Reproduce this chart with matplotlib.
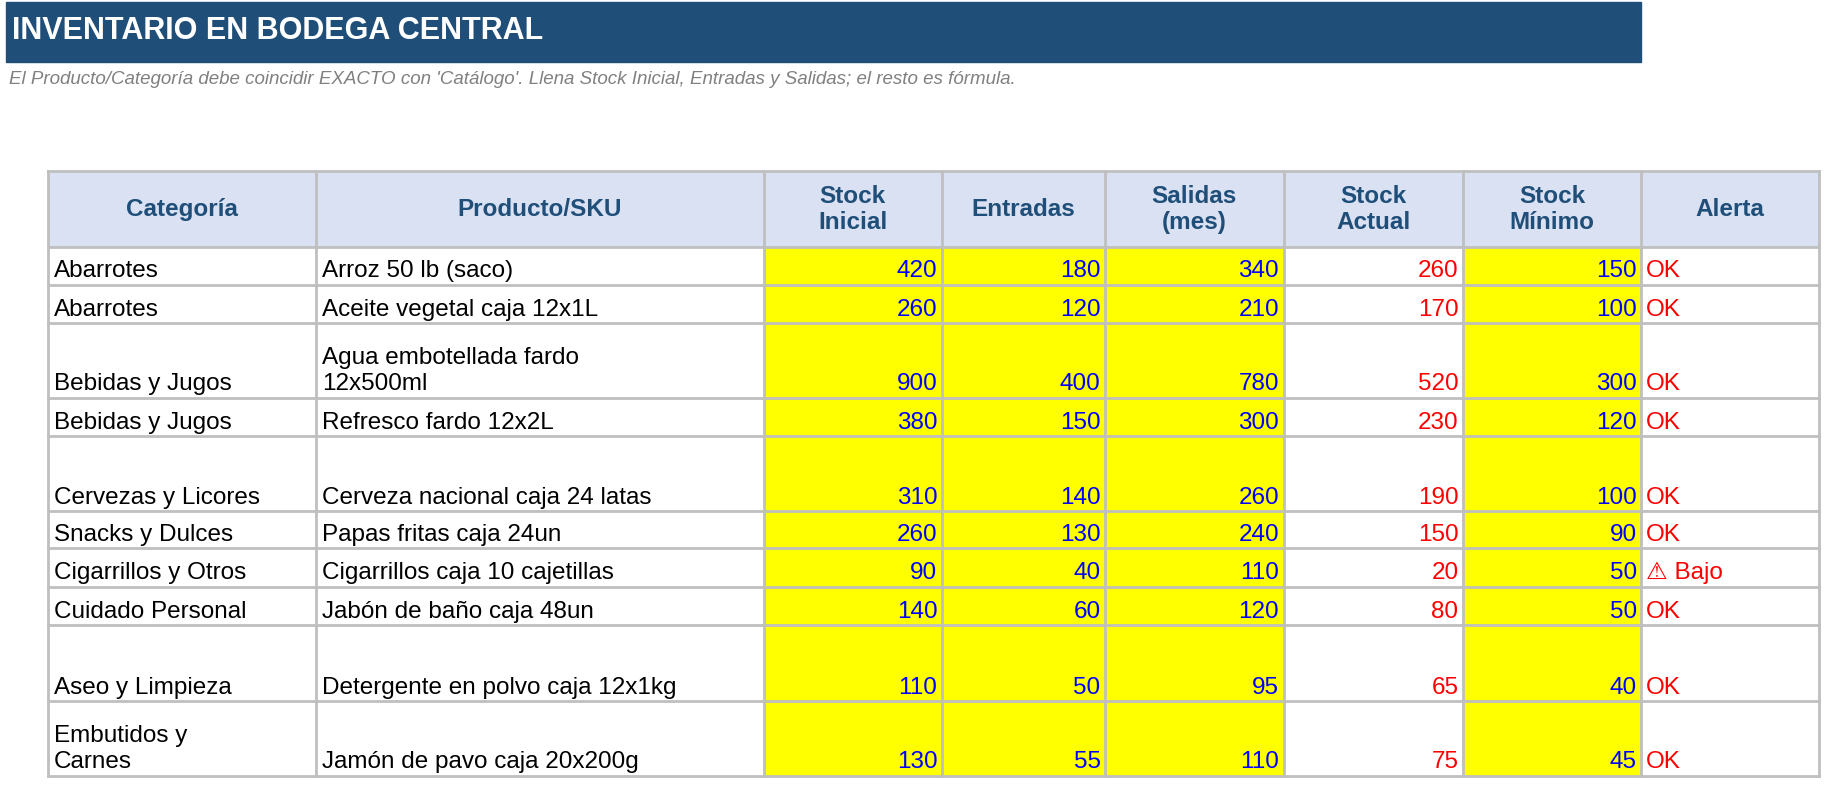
import matplotlib
matplotlib.use("Agg")
import matplotlib.pyplot as plt
from matplotlib.patches import Rectangle

title = "INVENTARIO EN BODEGA CENTRAL"
subtitle = "El Producto/Categoría debe coincidir EXACTO con 'Catálogo'. Llena Stock Inicial, Entradas y Salidas; el resto es fórmula."
headers = ["Categoría", "Producto/SKU", "Stock\nInicial", "Entradas", "Salidas\n(mes)", "Stock\nActual", "Stock\nMínimo", "Alerta"]
categorias = ["Abarrotes", "Abarrotes", "Bebidas y Jugos", "Bebidas y Jugos", "Cervezas y Licores",
              "Snacks y Dulces", "Cigarrillos y Otros", "Cuidado Personal", "Aseo y Limpieza", "Embutidos y\nCarnes"]
productos = ["Arroz 50 lb (saco)", "Aceite vegetal caja 12x1L", "Agua embotellada fardo\n12x500ml",
             "Refresco fardo 12x2L", "Cerveza nacional caja 24 latas", "Papas fritas caja 24un",
             "Cigarrillos caja 10 cajetillas", "Jabón de baño caja 48un", "Detergente en polvo caja 12x1kg",
             "Jamón de pavo caja 20x200g"]
stock_inicial = [420, 260, 900, 380, 310, 260, 90, 140, 110, 130]
entradas = [180, 120, 400, 150, 140, 130, 40, 60, 50, 55]
salidas = [340, 210, 780, 300, 260, 240, 110, 120, 95, 110]
stock_actual = [260, 170, 520, 230, 190, 150, 20, 80, 65, 75]
stock_minimo = [150, 100, 300, 120, 100, 90, 50, 50, 40, 45]
alerta = ["OK", "OK", "OK", "OK", "OK", "OK", "⚠ Bajo", "OK", "OK", "OK"]

plt.rcParams['font.family'] = ['Liberation Sans', 'DejaVu Sans']
fig = plt.figure(figsize=(18.28, 7.85), dpi=100)
ax = fig.add_axes([0, 0, 1, 1])
ax.set_xlim(0, 1568); ax.set_ylim(673, 0); ax.axis('off')

ax.add_patch(Rectangle((5, 2), 1403, 51, color='#1F4E79'))
ax.text(10, 27, title, color='white', fontsize=22, fontweight='bold', va='center')
ax.text(8, 68, subtitle, color='#808080', fontsize=13.5, style='italic', va='center')

xs = [41, 271, 655, 808, 948, 1101, 1255, 1408, 1560]
ys = [147, 212, 244, 277, 341, 374, 438, 470, 503, 536, 601, 665]
grid = '#BFBFBF'
# header
ax.add_patch(Rectangle((xs[0], ys[0]), xs[-1]-xs[0], ys[1]-ys[0], color='#D9E1F2'))
for j, h in enumerate(headers):
    ax.text((xs[j]+xs[j+1])/2, (ys[0]+ys[1])/2, h, ha='center', va='center', fontsize=17.5,
            fontweight='bold', color='#1F4E79', linespacing=1.15)
yellow_cols = [2, 3, 4, 6]
cols = [categorias, productos, stock_inicial, entradas, salidas, stock_actual, stock_minimo, alerta]
for i in range(len(categorias)):
    y0, y1 = ys[i+1], ys[i+2]
    for j in yellow_cols:
        ax.add_patch(Rectangle((xs[j], y0), xs[j+1]-xs[j], y1-y0, color='#FFFF00'))
    for j, col in enumerate(cols):
        v = col[i]
        if j < 2:
            ax.text(xs[j]+5, y1-2, v, ha='left', va='bottom', fontsize=17.5, color='black', linespacing=1.25)
        elif j == 7:
            ax.text(xs[j]+4, y1-2, v, ha='left', va='bottom', fontsize=17.5, color='#FF0000')
        else:
            c = '#FF0000' if j == 5 else '#0000FF'
            ax.text(xs[j+1]-4, y1-2, str(v), ha='right', va='bottom', fontsize=17.5, color=c)
for x in xs:
    ax.plot([x, x], [ys[0], ys[-1]], color=grid, lw=2)
for y in ys:
    ax.plot([xs[0], xs[-1]], [y, y], color=grid, lw=2)
fig.savefig('out.png', dpi=100)
